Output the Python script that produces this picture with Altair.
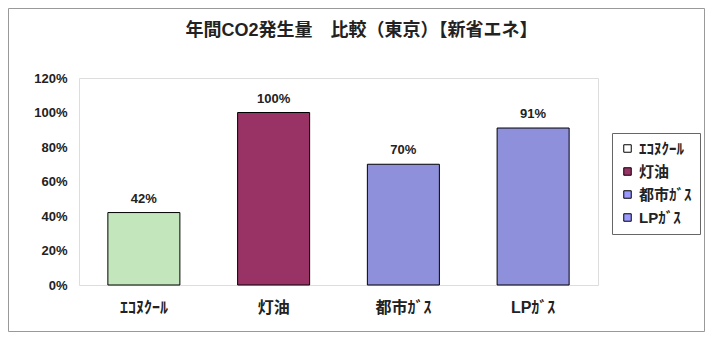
import altair as alt
import pandas as pd

categories = ["ｴｺﾇｸｰﾙ", "灯油", "都市ｶﾞｽ", "LPｶﾞｽ"]
values = [0.42, 1.00, 0.70, 0.91]
value_labels = ["42%", "100%", "70%", "91%"]
bar_colors = ["#c3e6bd", "#993366", "#8f90dc", "#8f90dc"]
legend_colors = ["#ffffff", "#993366", "#9999ff", "#9999ff"]
y_ticks = [0, 0.2, 0.4, 0.6, 0.8, 1.0, 1.2]
title_text = "年間CO2発生量　比較（東京）【新省エネ】"

FONT = "Liberation Sans, Noto Sans CJK JP"

df = pd.DataFrame({"cat": categories, "val": values, "label": value_labels, "barcol": bar_colors})

x_enc = alt.X(
    "cat:N",
    sort=categories,
    scale=alt.Scale(paddingInner=0.445, paddingOuter=0.2225),
    axis=alt.Axis(
        title=None, labelAngle=0, labelFont=FONT, labelFontSize=16,
        labelFontWeight="bold", labelColor="#222", labelPadding=14,
        ticks=False, domain=False,
    ),
)
y_enc = alt.Y(
    "val:Q",
    scale=alt.Scale(domain=[0, 1.2]),
    axis=alt.Axis(
        title=None, format="%", values=y_ticks, labelFont=FONT,
        labelFontSize=13, labelFontWeight="bold", labelColor="#222",
        ticks=False, domain=False, grid=False, labelPadding=12,
    ),
)

bars = alt.Chart(df).mark_bar(stroke="black", strokeWidth=1).encode(
    x=x_enc,
    y=y_enc,
    fill=alt.Fill("barcol:N", scale=None),
)

labels = alt.Chart(df).mark_text(
    baseline="bottom", dy=-7, font=FONT, fontSize=13, fontWeight="bold", color="#222"
).encode(x=x_enc, y=y_enc, text="label:N")

legend_layer = alt.Chart(df).mark_square(size=0).encode(
    x=x_enc,
    y=y_enc,
    color=alt.Color(
        "cat:N",
        sort=categories,
        scale=alt.Scale(domain=categories, range=legend_colors),
        legend=alt.Legend(
            title=None, orient="none", legendX=533, legendY=55,
            symbolType="square", symbolSize=56, symbolStrokeColor="#000",
            symbolStrokeWidth=1, symbolOpacity=1,
            labelFont=FONT, labelFontSize=15, labelFontWeight="bold",
            labelColor="#222", rowPadding=7, padding=8,
            strokeColor="#666", fillColor="#ffffff",
        ),
    ),
)

frame = alt.Chart(pd.DataFrame({"a": [0]})).mark_rect(
    fillOpacity=0, stroke="#999", strokeWidth=1
).encode(
    x=alt.value(-70.5), x2=alt.value(625.5), y=alt.value(-69.5), y2=alt.value(253.5)
)

chart = alt.layer(frame, bars, labels, legend_layer).properties(
    width=519,
    height=207,
    autosize="none",
    padding={"left": 71, "top": 70, "right": 107, "bottom": 47},
    title=alt.Title(
        title_text, font=FONT, fontSize=18, fontWeight="bold", color="#222",
        anchor="middle", frame="group", offset=-32, dx=23,
    ),
).configure_view(stroke="#888", strokeWidth=1).configure(background="white")

chart.save("out.html", embed_options={"renderer": "svg", "actions": False})
